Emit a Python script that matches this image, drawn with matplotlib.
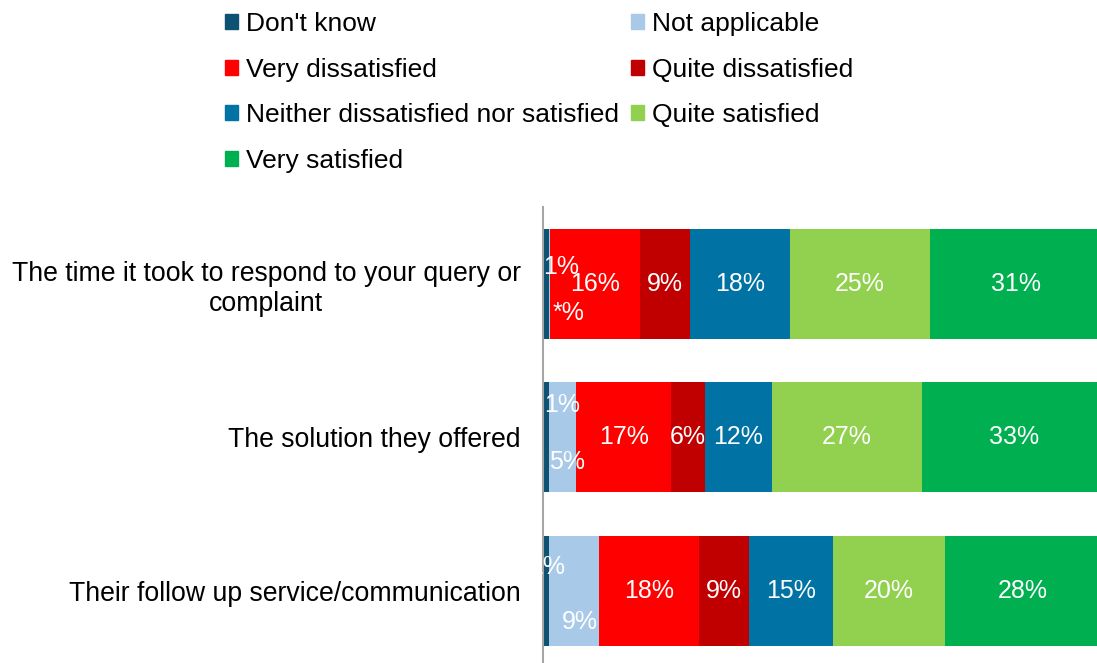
import matplotlib.pyplot as plt
import numpy as np
from matplotlib.patches import Patch

plt.rcParams['font.family'] = ['Liberation Sans', 'DejaVu Sans']

# Data (percent)
categories = ['The time it took to respond to your query or\ncomplaint',
              'The solution they offered',
              'Their follow up service/communication']
series = ["Don't know", 'Not applicable', 'Very dissatisfied', 'Quite dissatisfied',
          'Neither dissatisfied nor satisfied', 'Quite satisfied', 'Very satisfied']
dont_know = [1, 1, 1]
not_applicable = [0.3, 5, 9]
very_dissatisfied = [16, 17, 18]
quite_dissatisfied = [9, 6, 9]
neither = [18, 12, 15]
quite_satisfied = [25, 27, 20]
very_satisfied = [31, 33, 28]

values = [dont_know, not_applicable, very_dissatisfied, quite_dissatisfied,
          neither, quite_satisfied, very_satisfied]
colors = ['#0D5173', '#A9C9E8', '#FF0000', '#C00000', '#0072A3', '#92D050', '#00B050']

# pixel offsets for the tiny segments' labels (dx, dy), one per row
label_offsets = {
    0: [(15, 17), (16, 32), (1, 24)],
    1: [(19, -29), (5, -25), (6, -31)],
}

W, H = 1097, 663
fig = plt.figure(figsize=(W / 100, H / 100), dpi=100)
ax = fig.add_axes([543 / W, (H - 667.5) / H, 1 - 543 / W, 460.5 / H])

y = np.arange(len(categories))
left = np.zeros(len(categories))
for i, (name, vals, col) in enumerate(zip(series, values, colors)):
    vals = np.array(vals, dtype=float)
    ax.barh(y, vals, left=left, height=0.717, color=col, label=name, edgecolor='none')
    for r in range(len(categories)):
        v = vals[r]
        txt = '*%' if v < 0.5 else f'{v:.0f}%'
        dx, dy = label_offsets.get(i, [(0, 0)] * 3)[r]
        t = ax.annotate(txt, (left[r] + v / 2, y[r]), xytext=(dx, dy),
                        textcoords='offset pixels', ha='center', va='center',
                        color='white', fontsize=18)
        t.set_clip_on(True)
    left += vals

ax.set_xlim(0, 99.3)
ax.set_ylim(2.5, -0.5)
ax.set_yticks(y)
ax.set_yticklabels(categories, fontsize=19.2)
for lab in ax.get_yticklabels():
    lab.set_multialignment('center')
ax.tick_params(axis='y', length=0, pad=16)
ax.set_xticks([])
for s in ['top', 'right', 'bottom']:
    ax.spines[s].set_visible(False)
ax.spines['left'].set_color('#A6A6A6')
ax.spines['left'].set_linewidth(1.5)

# legend laid out row-wise like the original (two columns)
handles = [Patch(color=c) for c in colors]
order = [0, 2, 4, 6, 1, 3, 5]
fig.legend([handles[k] for k in order], [series[k] for k in order],
           loc='upper left', bbox_to_anchor=(225 / W, 1 - 12 / H), ncol=2,
           frameon=False, fontsize=19, handlelength=0.49, handleheight=0.49,
           handletextpad=0.3, labelspacing=0.82, columnspacing=0.45,
           borderpad=0, borderaxespad=0)

plt.savefig('out.png', dpi=100)
